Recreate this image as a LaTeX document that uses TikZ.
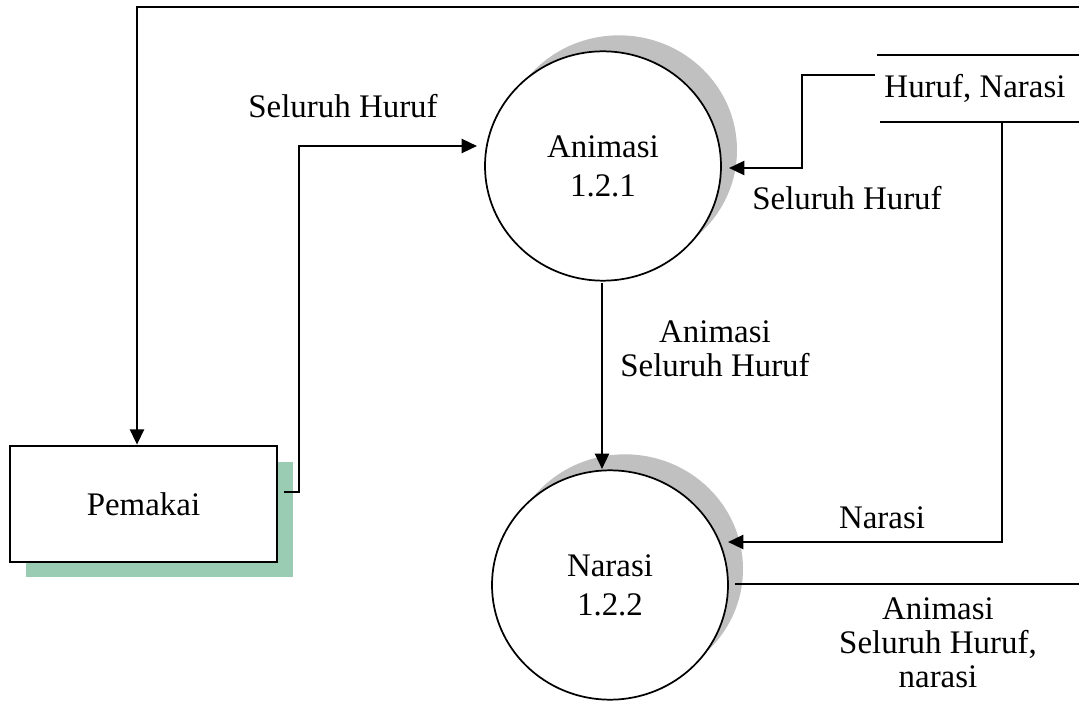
\documentclass[tikz,border=0pt]{standalone}
\usepackage{fontspec}
\setmainfont{Liberation Serif}
\usetikzlibrary{arrows.meta,shapes.geometric}
\definecolor{shadowgray}{RGB}{192,192,192}
\definecolor{shadowgreen}{RGB}{154,203,179}
\begin{document}
\begin{tikzpicture}[x=0.75pt,y=-0.75pt,
  txt/.style={font=\fontsize{24.7}{25.5}\selectfont, align=center, inner sep=0pt},
  flow/.style={line width=1.8pt, -{Triangle[length=11.5pt,width=10.5pt]}},
  link/.style={line width=1.8pt},
  proc/.style={ellipse, draw, line width=1.3pt, fill=white, inner sep=0pt,
    minimum width=177pt, minimum height=172pt, align=center,
    font=\fontsize{24.7}{29}\selectfont},
  entity/.style={draw, line width=1.5pt, fill=white, minimum width=200pt,
    minimum height=87.5pt, inner sep=0pt, font=\fontsize{24.7}{29}\selectfont},
  shade/.style={ellipse, fill=shadowgray, inner sep=0pt,
    minimum width=177pt, minimum height=172pt},
]
\useasboundingbox (0,0) rectangle (1079,702);

% drop shadows
\fill[shadowgreen] (26,462) rectangle (293,577);
\node[shade] (anishadow) at (619,150) {};
\node[shade] (narshadow) at (625,569) {};

% external entity and processes
\node[entity] (pem) at (143.5,504) {Pemakai};
\node[proc] (ani) at (603,166) {Animasi\\1.2.1};
\node[proc] (nar) at (610,585) {Narasi\\1.2.2};

% data store
\node[txt] (store) at (975,88) {Huruf, Narasi};
\draw[line width=1.5pt] (877,55) -- (1079,55);
\draw[line width=1.5pt] (880,122) -- (1079,122);

% connector end points
\coordinate (edgeTop) at (1079,7);
\coordinate (loopX) at (137,0);
\coordinate (pemOut) at (284,492);
\coordinate (aniIn) at (477,146);
\coordinate (storeOutA) at (875,75);
\coordinate (aniInR) at (729,168);
\coordinate (storeOutN) at (1002,122);
\coordinate (narInR) at (728,542);
\coordinate (aniOut) at (602,283);
\coordinate (narIn) at (602,469);
\coordinate (narOut) at (735,584);
\coordinate (edgeRight) at (1079,584);

% flows
\draw[flow] (edgeTop) -| (pem.north -| loopX);
\draw[flow] (pemOut) -- (299,492) |- (aniIn);
\draw[flow] (storeOutA) -| (802,168) -- (aniInR);
\draw[flow] (storeOutN) |- (narInR);
\draw[flow] (aniOut) -- (narIn);
\draw[link] (narOut) -- (edgeRight);

% flow labels
\node[txt] (l1) at (343,106) {Seluruh Huruf};
\node[txt] (l2) at (847,198) {Seluruh Huruf};
\node[txt] (l3) at (715,349) {Animasi\\Seluruh Huruf};
\node[txt] (l4) at (882,518) {Narasi};
\node[txt] (l5) at (938,643) {Animasi\\Seluruh Huruf,\\narasi};
\end{tikzpicture}
\end{document}
